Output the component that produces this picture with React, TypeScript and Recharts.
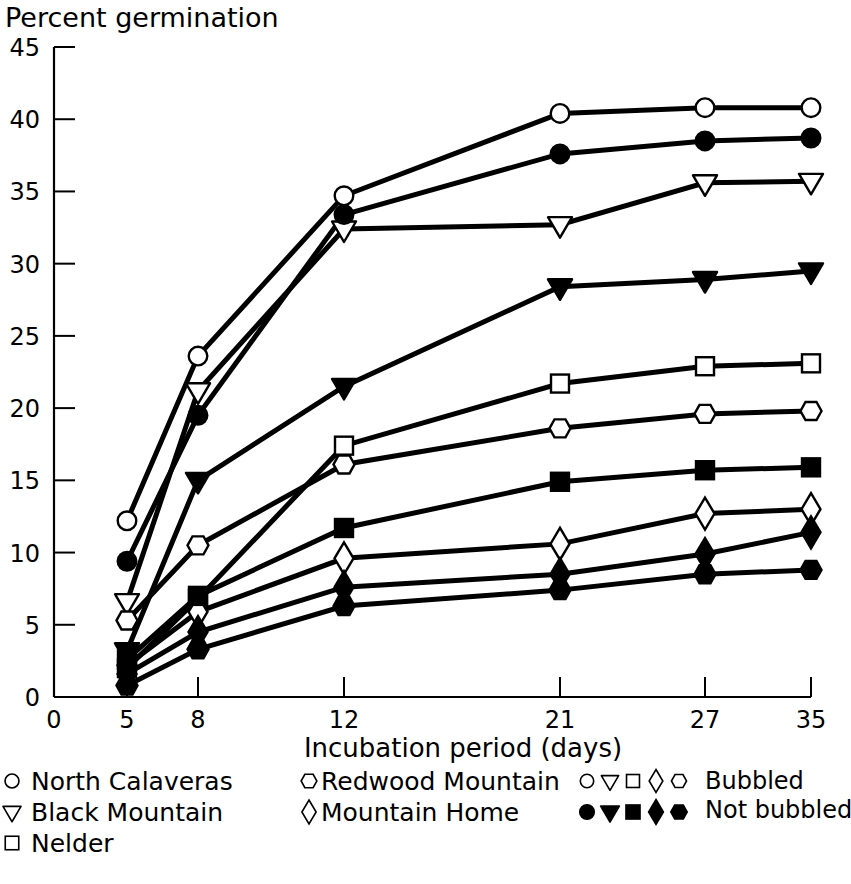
import React from "react";
import { LineChart, Line, XAxis, YAxis } from "recharts";

// incubation days where germination was counted
const days = [5, 8, 12, 21, 27, 35];

// the printed axis is not linear: each tick day has its own spacing along the axis
const tickDays = [0, 5, 8, 12, 21, 27, 35];
const tickSpacing = [0, 73, 144, 290, 506, 651, 757];
const yTicks = [0, 5, 10, 15, 20, 25, 30, 35, 40, 45];

// percent germination, bubbled (open symbols)
const northCalaverasBubbled = [12.2, 23.6, 34.7, 40.4, 40.8, 40.8];
const blackMountainBubbled = [6.6, 21.2, 32.4, 32.7, 35.6, 35.7];
const nelderBubbled = [2.0, 6.8, 17.4, 21.7, 22.9, 23.1];
const redwoodMountainBubbled = [5.3, 10.5, 16.1, 18.6, 19.6, 19.8];
const mountainHomeBubbled = [2.2, 5.9, 9.6, 10.6, 12.7, 13.0];

// percent germination, not bubbled (filled symbols)
const northCalaverasNot = [9.4, 19.5, 33.4, 37.6, 38.5, 38.7];
const blackMountainNot = [3.2, 15.0, 21.5, 28.4, 28.9, 29.5];
const nelderNot = [2.6, 7.0, 11.7, 14.9, 15.7, 15.9];
const redwoodMountainNot = [0.8, 3.3, 6.3, 7.4, 8.5, 8.8];
const mountainHomeNot = [1.6, 4.5, 7.6, 8.5, 9.9, 11.4];

type Shape = "circle" | "triangle" | "square" | "diamond" | "hexagon";

const series: { key: string; shape: Shape; filled: boolean; values: number[] }[] = [
  { key: "ncB", shape: "circle", filled: false, values: northCalaverasBubbled },
  { key: "bmB", shape: "triangle", filled: false, values: blackMountainBubbled },
  { key: "nB", shape: "square", filled: false, values: nelderBubbled },
  { key: "rmB", shape: "hexagon", filled: false, values: redwoodMountainBubbled },
  { key: "mhB", shape: "diamond", filled: false, values: mountainHomeBubbled },
  { key: "ncN", shape: "circle", filled: true, values: northCalaverasNot },
  { key: "bmN", shape: "triangle", filled: true, values: blackMountainNot },
  { key: "nN", shape: "square", filled: true, values: nelderNot },
  { key: "rmN", shape: "hexagon", filled: true, values: redwoodMountainNot },
  { key: "mhN", shape: "diamond", filled: true, values: mountainHomeNot },
];

// piecewise scale from day to axis position
function dayToAxis(d: number) {
  for (let i = 1; i < tickDays.length; i++) {
    if (d <= tickDays[i]) {
      const t = (d - tickDays[i - 1]) / (tickDays[i] - tickDays[i - 1]);
      return tickSpacing[i - 1] + t * (tickSpacing[i] - tickSpacing[i - 1]);
    }
  }
  return tickSpacing[tickSpacing.length - 1];
}

const data = days.map((d, i) => {
  const row: Record<string, number> = { pos: dayToAxis(d) };
  series.forEach(s => (row[s.key] = s.values[i]));
  return row;
});

const FONT = "'DejaVu Sans', 'Liberation Sans', Arial, sans-serif";

function Marker({ shape, filled, cx, cy, scale = 1, sw = 2.4 }: {
  shape: Shape; filled: boolean; cx: number; cy: number; scale?: number; sw?: number;
}) {
  const fill = filled ? "#000" : "#fff";
  const k = scale;
  const p = (pts: number[][]) => pts.map(([x, y]) => `${cx + x * k},${cy + y * k}`).join(" ");
  switch (shape) {
    case "circle":
      return <circle cx={cx} cy={cy} r={9.3 * k} fill={fill} stroke="#000" strokeWidth={sw} />;
    case "triangle":
      return <polygon points={p([[-12, -7.5], [12, -7.5], [0, 13]])} fill={fill} stroke="#000" strokeWidth={sw} strokeLinejoin="round" />;
    case "square":
      return <rect x={cx - 9 * k} y={cy - 9 * k} width={18 * k} height={18 * k} fill={fill} stroke="#000" strokeWidth={sw} />;
    case "diamond":
      return <polygon points={p([[0, -16], [9.5, 0], [0, 16], [-9.5, 0]])} fill={fill} stroke="#000" strokeWidth={sw} />;
    case "hexagon":
      return <polygon points={p([[-10.5, 0], [-5.5, -9], [5.5, -9], [10.5, 0], [5.5, 9], [-5.5, 9]])} fill={fill} stroke="#000" strokeWidth={sw} />;
  }
}

function XTick({ x, y, payload }: any) {
  const idx = tickSpacing.indexOf(payload.value);
  return (
    <g>
      {idx > 0 && <line x1={x} y1={y} x2={x} y2={y - 20} stroke="#000" strokeWidth={2} />}
      <text x={x} y={y + 31} textAnchor="middle" fontSize={24} fontFamily={FONT} fill="#000">
        {tickDays[idx]}
      </text>
    </g>
  );
}

function YTick({ x, y, payload }: any) {
  return (
    <g>
      {payload.value > 0 && <line x1={x} y1={y} x2={x + 21} y2={y} stroke="#000" strokeWidth={2} />}
      <text x={x - 14} y={y + 9} textAnchor="end" fontSize={24} fontFamily={FONT} fill="#000">
        {payload.value}
      </text>
    </g>
  );
}

const legendCol1 = [
  { label: "North Calaveras", shape: "circle" as Shape },
  { label: "Black Mountain", shape: "triangle" as Shape },
  { label: "Nelder", shape: "square" as Shape },
];
const legendCol2 = [
  { label: "Redwood Mountain", shape: "hexagon" as Shape },
  { label: "Mountain Home", shape: "diamond" as Shape },
];
const legendShapes: Shape[] = ["circle", "triangle", "square", "diamond", "hexagon"];

export default function App() {
  const rowY = [781, 812, 843];
  return (
    <div style={{ position: "absolute", left: 0, top: 0, width: 851, height: 884, background: "#fff" }}>
      <LineChart width={851} height={760} data={data} margin={{ top: 47, right: 40, left: 0, bottom: 0 }}>
        <XAxis
          dataKey="pos"
          type="number"
          domain={[0, 757]}
          ticks={tickSpacing}
          interval={0}
          height={63}
          tickSize={0}
          tickMargin={0}
          tick={<XTick />}
          axisLine={{ stroke: "#000", strokeWidth: 2.2 }}
          tickLine={false}
        />
        <YAxis
          type="number"
          domain={[0, 45]}
          ticks={yTicks}
          interval={0}
          width={54}
          tickSize={0}
          tickMargin={0}
          tick={<YTick />}
          axisLine={{ stroke: "#000", strokeWidth: 2.2 }}
          tickLine={false}
        />
        {series.map(s => (
          <Line
            key={"l" + s.key}
            dataKey={s.key}
            stroke="#000"
            strokeWidth={5}
            dot={false}
            activeDot={false}
            isAnimationActive={false}
          />
        ))}
        {series.map(s => (
          <Line
            key={"d" + s.key}
            dataKey={s.key}
            stroke="none"
            activeDot={false}
            isAnimationActive={false}
            dot={(props: any) => (
              <Marker key={`${s.key}-${props.index}`} shape={s.shape} filled={s.filled} cx={props.cx} cy={props.cy} />
            )}
          />
        ))}
      </LineChart>
      <svg width={851} height={884} style={{ position: "absolute", left: 0, top: 0, pointerEvents: "none" }}>
        <g fontFamily={FONT} fill="#000">
          <text x={5} y={27} fontSize={27}>Percent germination</text>
          <text x={463} y={757} fontSize={26} textAnchor="middle">Incubation period (days)</text>
          {legendCol1.map((it, i) => (
            <g key={it.label}>
              <Marker shape={it.shape} filled={false} cx={12} cy={rowY[i]} scale={0.75} sw={1.6} />
              <text x={31} y={rowY[i] + 9} fontSize={25}>{it.label}</text>
            </g>
          ))}
          {legendCol2.map((it, i) => (
            <g key={it.label}>
              <Marker shape={it.shape} filled={false} cx={309} cy={rowY[i]} scale={0.75} sw={1.6} />
              <text x={321} y={rowY[i] + 9} fontSize={25}>{it.label}</text>
            </g>
          ))}
          {legendShapes.map((sh, i) => (
            <g key={sh}>
              <Marker shape={sh} filled={false} cx={587 + i * 23} cy={rowY[0]} scale={0.72} sw={1.6} />
              <Marker shape={sh} filled={true} cx={587 + i * 23} cy={rowY[1]} scale={0.78} sw={1.6} />
            </g>
          ))}
          <text x={705} y={rowY[0] + 8} fontSize={24}>Bubbled</text>
          <text x={705} y={rowY[1] + 6} fontSize={24}>Not bubbled</text>
        </g>
      </svg>
    </div>
  );
}
